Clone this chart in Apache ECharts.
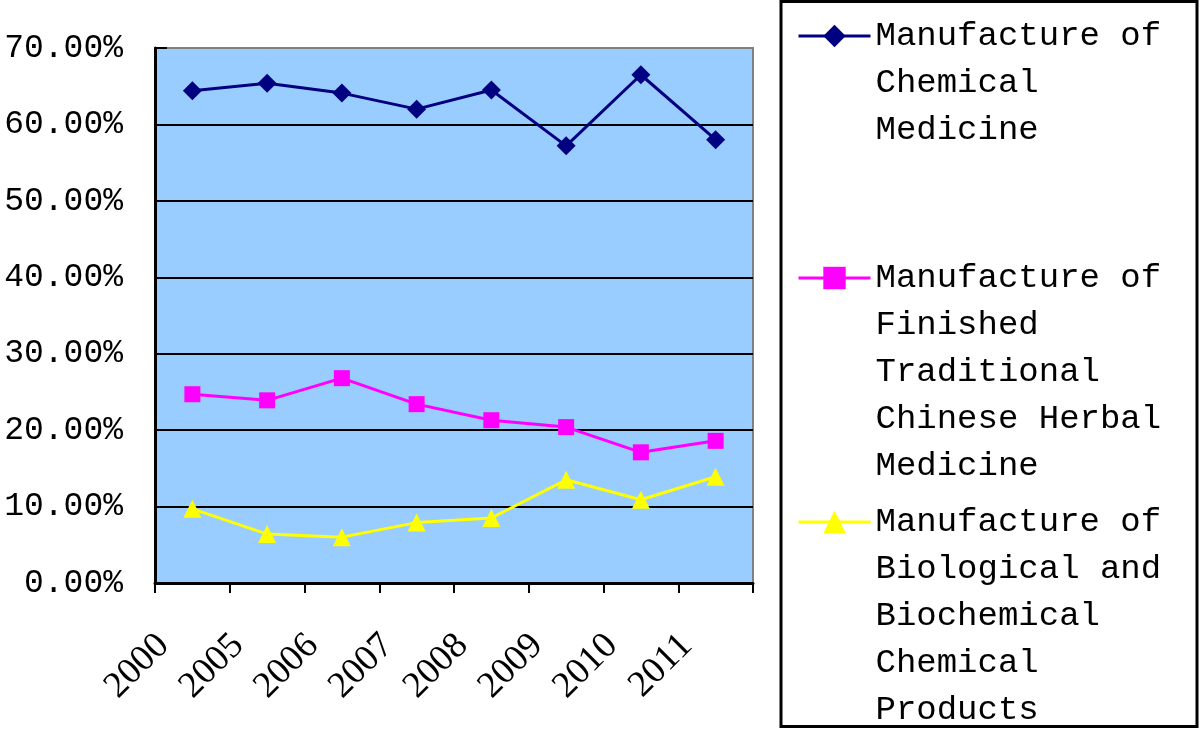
<!DOCTYPE html>
<html>
<head>
<meta charset="utf-8">
<script src="https://cdn.jsdelivr.net/npm/echarts@6/dist/echarts.min.js"></script>
<style>
  html, body { margin: 0; padding: 0; background: #fff; }
  #chart { width: 1200px; height: 730px; }
</style>
</head>
<body>
<div id="chart"></div>
<script>
// chart values (percent)
const years = ["2000", "2005", "2006", "2007", "2008", "2009", "2010", "2011"];
const chemical = [64.4, 65.4, 64.1, 62.0, 64.5, 57.2, 66.5, 58.0];
const herbal = [24.7, 23.9, 26.8, 23.4, 21.3, 20.4, 17.1, 18.6];
const biological = [9.7, 6.4, 6.0, 7.9, 8.5, 13.5, 10.9, 13.9];

const names = [
  "Manufacture of Chemical Medicine",
  "Manufacture of Finished Traditional Chinese Herbal Medicine",
  "Manufacture of Biological and Biochemical Chemical Products",
];
// how the legend text is wrapped
const legendLines = [
  ["Manufacture of", "Chemical", "Medicine"],
  ["Manufacture of", "Finished", "Traditional", "Chinese Herbal", "Medicine"],
  ["Manufacture of", "Biological and", "Biochemical", "Chemical", "Products"],
];

const monoFont = "Liberation Mono";
const lineH = 47;
const iconCenters = [36, 278, 522];

const chart = echarts.init(document.getElementById("chart"));

// legend icon sits at the middle of the text block, so put empty lines
// in front to get the first line level with the icon
function makeLegend(i) {
  const n = legendLines[i].length;
  const blockH = (2 * n - 1) * lineH;
  const pad = new Array(n - 1).fill("");
  return {
    data: [names[i]],
    left: 797,
    top: iconCenters[i] - blockH / 2,
    padding: 0,
    itemWidth: 72,
    itemHeight: 28,
    selectedMode: false,
    lineStyle: { width: 3 },
    formatter: () => pad.concat(legendLines[i]).join("\n"),
    textStyle: {
      fontFamily: monoFont,
      fontSize: 34,
      color: "#000",
      lineHeight: lineH,
    },
  };
}

const gridLineColors = ["#000", "#000", "#000", "#000", "#000", "#000", "#000", "#808080"];

chart.setOption({
  animation: false,
  backgroundColor: "#fff",
  grid: {
    left: 155,
    right: 447,
    top: 48,
    bottom: 147,
    show: true,
    backgroundColor: "#99CCFF",
    borderColor: "#808080",
    borderWidth: 2,
  },
  legend: [makeLegend(0), makeLegend(1), makeLegend(2)],
  graphic: [
    {
      type: "rect",
      shape: { x: 781, y: 1.5, width: 416, height: 725 },
      style: { fill: null, stroke: "#000", lineWidth: 3 },
      z: 10,
    },
  ],
  xAxis: {
    type: "category",
    data: years,
    boundaryGap: true,
    axisLine: { lineStyle: { color: "#000", width: 3 } },
    axisTick: { show: true, length: 10, lineStyle: { color: "#000", width: 2 } },
    axisLabel: {
      interval: 0,
      rotate: 45,
      margin: 28,
      padding: [0, 41, 0, 0],
      fontFamily: "Liberation Serif",
      fontSize: 37,
      color: "#000",
    },
    splitLine: { show: false },
  },
  yAxis: {
    type: "value",
    min: 0,
    max: 70,
    interval: 10,
    axisLine: { show: true, lineStyle: { color: "#000", width: 3 } },
    axisTick: { show: true, inside: true, length: 12, lineStyle: { color: "#000", width: 2 } },
    axisLabel: {
      margin: 32,
      fontFamily: monoFont,
      fontSize: 33,
      color: "#000",
      formatter: (v) => v.toFixed(2) + "%",
    },
    splitLine: { show: true, lineStyle: { color: gridLineColors, width: 2 } },
  },
  series: [
    {
      name: names[0],
      type: "line",
      data: chemical,
      symbol: "diamond",
      symbolSize: 19,
      lineStyle: { color: "#000080", width: 3 },
      itemStyle: { color: "#000080" },
    },
    {
      name: names[1],
      type: "line",
      data: herbal,
      symbol: "rect",
      symbolSize: 16,
      lineStyle: { color: "#FF00FF", width: 3 },
      itemStyle: { color: "#FF00FF" },
    },
    {
      name: names[2],
      type: "line",
      data: biological,
      symbol: "triangle",
      symbolSize: 18,
      lineStyle: { color: "#FFFF00", width: 3 },
      itemStyle: { color: "#FFFF00" },
    },
  ],
});
</script>
</body>
</html>
